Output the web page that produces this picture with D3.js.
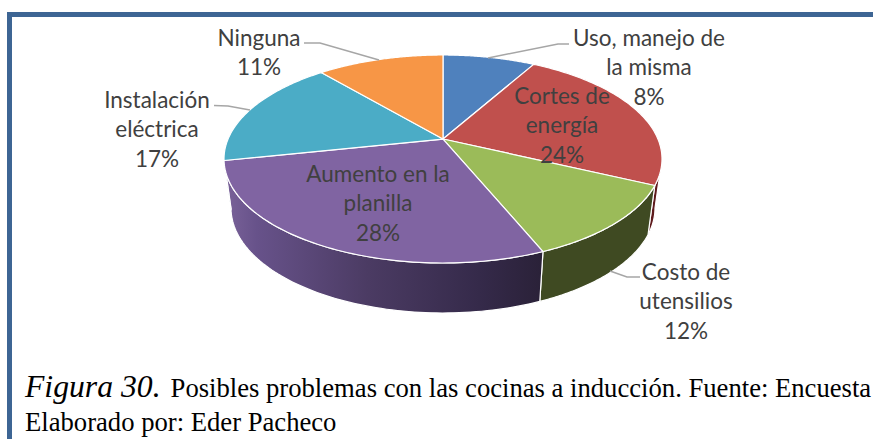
<!DOCTYPE html>
<html><head><meta charset="utf-8">
<script src="https://cdn.jsdelivr.net/npm/d3@7"></script>
<style>html,body{margin:0;padding:0;background:#fff;overflow:hidden}svg{display:block}</style>
</head><body><div id="c"></div>
<script>
const categories = ["Uso, manejo de|la misma","Cortes de|energía","Costo de|utensilios","Aumento en la|planilla","Instalación|eléctrica","Ninguna"];
const values = [8.2,23.8,11.75,27.95,17.05,11.25];
const colors = ["#4f81bd","#c0504d","#9bbb59","#8064a2","#4bacc6","#f79646"];
const sideColors = ["#2a4566","#5e1a1c","#3f4a22","#4a3a60","#2a6273","#8a5020"];
const captionLead = "Figura 30.";
const captionRest = "Posibles problemas con las cocinas a inducción. Fuente: Encuesta";
const captionLine2 = "Elaborado por: Eder Pacheco";

const W=873,H=439;
const svg=d3.select("#c").append("svg").attr("width",W).attr("height",H);
const defs=svg.append("defs");
const grad=defs.append("linearGradient").attr("id","sidePurple").attr("gradientUnits","userSpaceOnUse")
  .attr("x1",225).attr("x2",543).attr("y1",0).attr("y2",0);
[[0,"#7a6299"],[0.1,"#67528a"],[0.45,"#4b3b63"],[0.8,"#352a4a"],[1,"#2a2138"]].forEach(s=>grad.append("stop").attr("offset",s[0]).attr("stop-color",s[1]));

// frame
svg.append("path").attr("d",`M9.5 ${H+5} V14.5 H${W+5}`).attr("fill","none").attr("stroke","#3d6594").attr("stroke-width",5);

// projection of the tilted pie
const topE={cx:443,cy:159,rx:219,ry:104}, botE={cx:443,cy:208,rx:212,ry:105};
const p=0.192;
function ecc(a){ // true pie angle -> unit-disc point with perspective shift
  const x=Math.sin(a),y=Math.cos(a),d=1+p*y;
  return [x*Math.sqrt(1-p*p)/d,(y+p)/d];
}
const pt=(e,u)=>[e.cx+e.rx*u[0],e.cy-e.ry*u[1]];
const apex=[topE.cx,topE.cy-topE.ry*p];
const pie=d3.pie().sort(null)(values);
const line=d3.line();
const sampled=(a0,a1,n=80)=>d3.range(n+1).map(i=>ecc(a0+(a1-a0)*i/n));

const g=svg.append("g");
// side walls (only the front half)
const frontStart=Math.acos(-p); // angle where projected y = 0
pie.forEach((d,i)=>{
  const a0=Math.max(d.startAngle,frontStart), a1=Math.min(d.endAngle,2*Math.PI-frontStart);
  if(a1<=a0) return;
  const s=sampled(a0,a1);
  const poly=s.map(u=>pt(topE,u)).concat(s.slice().reverse().map(u=>pt(botE,u)));
  g.append("path").attr("d",line(poly)+"Z")
    .attr("fill",i===3?"url(#sidePurple)":sideColors[i])
    .attr("stroke","#fff").attr("stroke-width",1.2).attr("stroke-linejoin","round");
});
// top faces
pie.forEach((d,i)=>{
  const poly=[apex].concat(sampled(d.startAngle,d.endAngle).map(u=>pt(topE,u)));
  g.append("path").attr("d",line(poly)+"Z").attr("fill",colors[i])
    .attr("stroke","#fff").attr("stroke-width",1.2).attr("stroke-linejoin","round");
});

// labels
const labelPos=[[649,46],[562,104],[686,280],[378,182],[157,108],[259,45.5]];
const leaders=[
  [[569,44],[558,44],[488,58]],
  null,
  [[640,277],[627,277],[610,271]],
  null,
  [[214,105.5],[228,106],[250,110]],
  [[304,43],[320,43],[379,60]]
];
const lab=svg.append("g").attr("font-family","Lato, Carlito, sans-serif").attr("font-size",22.5).attr("fill","#404040").attr("text-anchor","middle");
categories.forEach((c,i)=>{
  const lines=c.split("|").concat([Math.round(values[i])+"%"]);
  const t=lab.append("text");
  lines.forEach((l,k)=>t.append("tspan").attr("x",labelPos[i][0]).attr("y",labelPos[i][1]+k*29.3).text(l));
  if(leaders[i]) svg.append("path").attr("d",d3.line()(leaders[i])).attr("fill","none").attr("stroke","#a6a6a6").attr("stroke-width",1.5);
});

// caption
const cap=svg.append("g").attr("font-family","'Liberation Serif', serif").attr("fill","#000");
const t1=cap.append("text").attr("x",25).attr("y",397);
t1.append("tspan").attr("font-style","italic").attr("font-size",31.7).text(captionLead);
t1.append("tspan").attr("font-size",26.65).attr("dx",10).text(captionRest);
cap.append("text").attr("x",25).attr("y",431).attr("font-size",26.65).text(captionLine2);
</script></body></html>
